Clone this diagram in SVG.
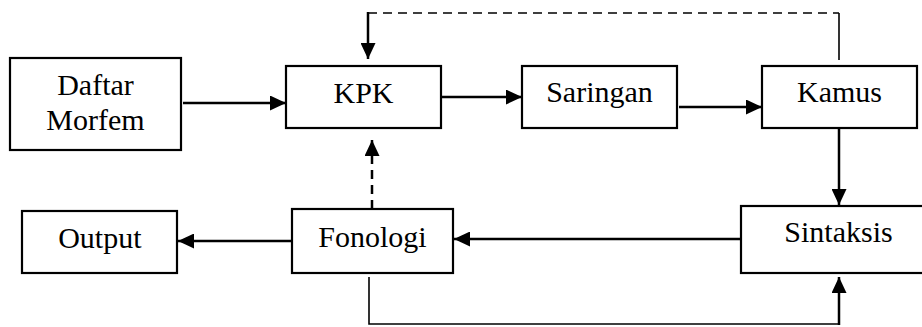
<svg xmlns="http://www.w3.org/2000/svg" width="922" height="327" viewBox="0 0 922 327">
<style>
.box{fill:#fff;stroke:#000;stroke-width:2.2}
.t{font-family:"Liberation Serif","Times New Roman",serif;font-size:30px;fill:#000;text-anchor:middle}
.a{fill:none;stroke:#000;stroke-width:2.5}
.thin{fill:none;stroke:#000;stroke-width:1.6}
.d{stroke-dasharray:9,6}
</style>
<defs>
<marker id="ah" markerUnits="userSpaceOnUse" markerWidth="16" markerHeight="15" refX="16" refY="7.5" orient="auto">
<path d="M0,0 L16,7.5 L0,15 z" fill="#000"/>
</marker>
</defs>
<rect x="0" y="0" width="922" height="327" fill="#fff"/>
<g id="daftar"><rect class="box" x="10" y="58" width="171" height="92"/><text class="t" x="95.5" y="95">Daftar</text><text class="t" x="95.5" y="130">Morfem</text></g>
<g id="kpk"><rect class="box" x="286" y="66" width="155" height="62"/><text class="t" x="363.5" y="103">KPK</text></g>
<g id="saringan"><rect class="box" x="522" y="66" width="155" height="62"/><text class="t" x="599.5" y="102">Saringan</text></g>
<g id="kamus"><rect class="box" x="762" y="66" width="155" height="62"/><text class="t" x="839.5" y="102">Kamus</text></g>
<g id="sintaksis"><rect class="box" x="741" y="206" width="200" height="67"/><text class="t" x="838.5" y="242">Sintaksis</text></g>
<g id="fonologi"><rect class="box" x="292" y="209" width="161" height="64"/><text class="t" x="372.5" y="247">Fonologi</text></g>
<g id="output"><rect class="box" x="22" y="211" width="155" height="62"/><text class="t" x="99.8" y="248">Output</text></g>
<g id="connectors">
<line class="a" x1="183" y1="103" x2="286" y2="103" marker-end="url(#ah)"/>
<line class="a" x1="441" y1="97" x2="522" y2="97" marker-end="url(#ah)"/>
<line class="a" x1="679" y1="107" x2="762" y2="107" marker-end="url(#ah)"/>
<line class="a" x1="839" y1="128" x2="839" y2="205" marker-end="url(#ah)"/>
<line class="a" x1="741" y1="239" x2="454" y2="239" marker-end="url(#ah)"/>
<line class="a" x1="292" y1="241" x2="178" y2="241" marker-end="url(#ah)"/>
<line class="a d" x1="372" y1="209" x2="372" y2="160"/>
<line class="a" x1="372" y1="160" x2="372" y2="140" marker-end="url(#ah)"/>
<line class="thin d" x1="368" y1="13" x2="839" y2="13"/>
<line class="thin" x1="839" y1="13" x2="839" y2="60"/>
<line class="a" x1="368" y1="12" x2="368" y2="59" marker-end="url(#ah)"/>
<polyline class="thin" points="369,277 369,324 839,324"/>
<line class="a" x1="839" y1="325" x2="839" y2="277" marker-end="url(#ah)"/>
</g>
</svg>
